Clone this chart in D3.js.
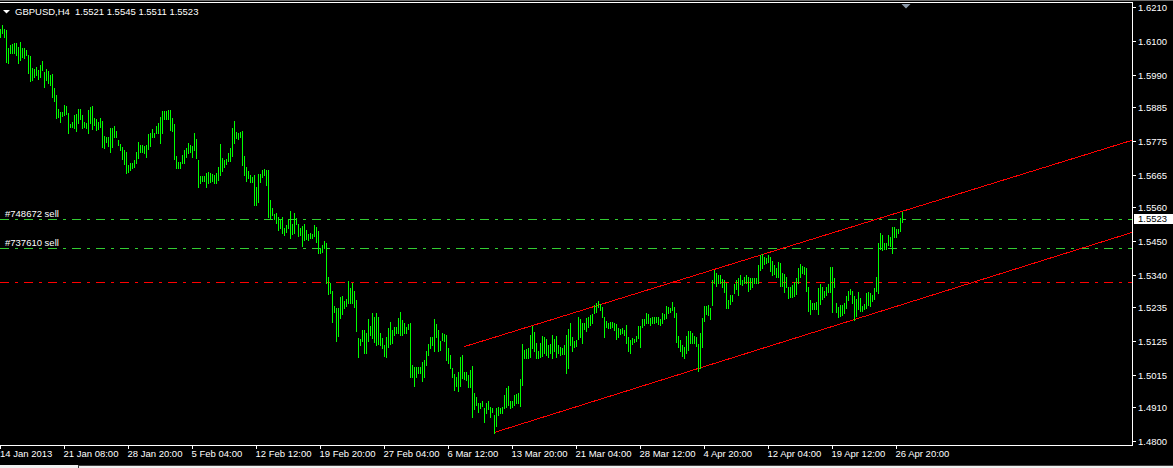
<!DOCTYPE html>
<html>
<head>
<meta charset="utf-8">
<script src="https://cdn.jsdelivr.net/npm/d3@7"></script>
<style>
  html, body { margin: 0; padding: 0; background: #000; }
  svg { display: block; }
  text { font-family: "Liberation Sans", Arial, sans-serif; font-size: 9.5px; fill: #ffffff; white-space: pre; }
</style>
</head>
<body>
<div id="chart"></div>
<script>
// ---------------- DATA ----------------
const symbol = "GBPUSD,H4";
const ohlcLast = ["1.5521", "1.5545", "1.5511", "1.5523"];
const lastPrice = 1.5523;

const priceTickLabels = ["1.6210","1.6100","1.5990","1.5885","1.5775","1.5665","1.5560",
                         "1.5450","1.5340","1.5235","1.5125","1.5015","1.4910","1.4800"];
const timeTickLabels = ["14 Jan 2013","21 Jan 08:00","28 Jan 20:00","5 Feb 04:00","12 Feb 12:00",
                        "19 Feb 20:00","27 Feb 04:00","6 Mar 12:00","13 Mar 20:00","21 Mar 04:00",
                        "28 Mar 12:00","4 Apr 20:00","12 Apr 04:00","19 Apr 12:00","26 Apr 20:00"];
const barsPerTimeTick = 32;

// H4 bar highs
const highs = [
1.6139,1.6152,1.6139,1.6136,1.6077,1.6087,1.6091,1.6093,1.6093,1.6082,
1.6097,1.6079,1.6077,1.6071,1.6055,1.6052,1.6012,1.6008,1.6017,1.6006,
1.6022,1.6035,1.6001,1.6008,1.6003,1.5990,1.5993,1.5947,1.5925,1.5878,
1.5871,1.5871,1.5892,1.5889,1.5867,1.5831,1.5838,1.5860,1.5863,1.5879,
1.5879,1.5860,1.5838,1.5835,1.5876,1.5885,1.5889,1.5851,1.5846,1.5838,
1.5849,1.5841,1.5792,1.5789,1.5789,1.5817,1.5819,1.5824,1.5809,1.5779,
1.5766,1.5757,1.5746,1.5741,1.5697,1.5703,1.5705,1.5714,1.5741,1.5771,
1.5762,1.5762,1.5759,1.5762,1.5798,1.5800,1.5813,1.5802,1.5824,1.5833,
1.5852,1.5874,1.5874,1.5874,1.5876,1.5876,1.5849,1.5831,1.5727,1.5708,
1.5708,1.5730,1.5746,1.5751,1.5768,1.5762,1.5759,1.5800,1.5781,1.5714,
1.5662,1.5662,1.5662,1.5670,1.5676,1.5670,1.5668,1.5665,1.5670,1.5692,
1.5766,1.5719,1.5714,1.5716,1.5737,1.5751,1.5817,1.5840,1.5806,1.5802,
1.5806,1.5808,1.5727,1.5692,1.5679,1.5665,1.5657,1.5665,1.5625,1.5668,
1.5668,1.5681,1.5684,1.5681,1.5681,1.5583,1.5559,1.5537,1.5540,1.5529,
1.5522,1.5529,1.5494,1.5501,1.5521,1.5548,1.5506,1.5542,1.5524,1.5506,
1.5491,1.5499,1.5506,1.5486,1.5473,1.5475,1.5472,1.5502,1.5495,1.5483,
1.5429,1.5437,1.5450,1.5445,1.5334,1.5313,1.5288,1.5239,1.5231,1.5231,
1.5269,1.5271,1.5255,1.5261,1.5320,1.5296,1.5315,1.5288,1.5258,1.5134,
1.5131,1.5161,1.5161,1.5152,1.5196,1.5174,1.5215,1.5202,1.5215,1.5202,
1.5150,1.5134,1.5112,1.5139,1.5166,1.5186,1.5161,1.5170,1.5172,1.5199,
1.5218,1.5193,1.5183,1.5172,1.5180,1.5183,1.5047,1.5042,1.5039,1.5042,
1.5042,1.5056,1.5063,1.5091,1.5115,1.5137,1.5137,1.5196,1.5180,1.5161,
1.5126,1.5150,1.5148,1.5145,1.5101,1.5080,1.5036,1.5018,1.5009,1.5025,
1.5072,1.5080,1.5025,1.5025,1.5015,1.5031,1.5044,1.4955,1.4944,1.4925,
1.4922,1.4930,1.4908,1.4925,1.4929,1.4912,1.4908,1.4885,1.4906,1.4912,
1.4908,1.4910,1.4950,1.4971,1.4979,1.4931,1.4931,1.4950,1.4953,1.4955,
1.5001,1.5115,1.5096,1.5098,1.5101,1.5145,1.5174,1.5153,1.5120,1.5091,
1.5120,1.5141,1.5137,1.5131,1.5112,1.5115,1.5145,1.5131,1.5141,1.5112,
1.5107,1.5101,1.5112,1.5145,1.5163,1.5185,1.5137,1.5126,1.5128,1.5204,
1.5196,1.5183,1.5185,1.5199,1.5204,1.5210,1.5213,1.5242,1.5248,1.5256,
1.5245,1.5237,1.5202,1.5191,1.5185,1.5188,1.5188,1.5183,1.5180,1.5166,
1.5163,1.5166,1.5161,1.5177,1.5139,1.5128,1.5134,1.5131,1.5141,1.5174,
1.5174,1.5196,1.5196,1.5215,1.5213,1.5199,1.5202,1.5202,1.5204,1.5202,
1.5196,1.5215,1.5213,1.5239,1.5235,1.5231,1.5253,1.5237,1.5215,1.5141,
1.5128,1.5112,1.5107,1.5141,1.5156,1.5156,1.5152,1.5141,1.5137,1.5115,
1.5152,1.5199,1.5239,1.5239,1.5242,1.5231,1.5323,1.5356,1.5347,1.5340,
1.5340,1.5326,1.5323,1.5315,1.5258,1.5275,1.5275,1.5310,1.5323,1.5329,
1.5340,1.5323,1.5332,1.5340,1.5332,1.5329,1.5329,1.5331,1.5329,1.5372,
1.5405,1.5408,1.5399,1.5394,1.5405,1.5397,1.5386,1.5372,1.5361,1.5383,
1.5380,1.5345,1.5343,1.5334,1.5302,1.5300,1.5307,1.5318,1.5329,1.5361,
1.5375,1.5369,1.5367,1.5361,1.5300,1.5258,1.5250,1.5248,1.5253,1.5296,
1.5310,1.5300,1.5289,1.5300,1.5310,1.5367,1.5367,1.5329,1.5250,1.5235,
1.5242,1.5242,1.5248,1.5271,1.5289,1.5293,1.5289,1.5271,1.5261,1.5286,
1.5264,1.5239,1.5245,1.5280,1.5286,1.5280,1.5275,1.5296,1.5332,1.5443,
1.5477,1.5470,1.5445,1.5445,1.5470,1.5464,1.5495,1.5495,1.5488,1.5488,
1.5524,1.5545];

// H4 bar lows
const lows = [
1.6112,1.6125,1.6115,1.6033,1.6028,1.6060,1.6062,1.6060,1.6055,1.6030,
1.6039,1.6047,1.6044,1.6055,1.5998,1.5970,1.5974,1.5984,1.5990,1.5976,
1.5982,1.6006,1.5952,1.5974,1.5963,1.5957,1.5919,1.5906,1.5851,1.5854,
1.5838,1.5857,1.5860,1.5863,1.5802,1.5820,1.5822,1.5817,1.5808,1.5833,
1.5846,1.5817,1.5820,1.5817,1.5800,1.5835,1.5813,1.5827,1.5811,1.5813,
1.5822,1.5757,1.5751,1.5773,1.5759,1.5741,1.5757,1.5789,1.5789,1.5762,
1.5746,1.5716,1.5701,1.5670,1.5676,1.5681,1.5689,1.5692,1.5705,1.5719,
1.5741,1.5741,1.5735,1.5722,1.5748,1.5759,1.5787,1.5789,1.5800,1.5800,
1.5770,1.5802,1.5846,1.5846,1.5846,1.5811,1.5808,1.5716,1.5687,1.5687,
1.5687,1.5703,1.5705,1.5722,1.5735,1.5741,1.5724,1.5746,1.5719,1.5627,
1.5638,1.5645,1.5645,1.5627,1.5640,1.5643,1.5645,1.5640,1.5640,1.5649,
1.5665,1.5679,1.5692,1.5701,1.5711,1.5711,1.5727,1.5770,1.5786,1.5782,
1.5787,1.5697,1.5665,1.5646,1.5654,1.5643,1.5641,1.5567,1.5567,1.5578,
1.5643,1.5659,1.5665,1.5632,1.5529,1.5521,1.5535,1.5521,1.5508,1.5486,
1.5491,1.5475,1.5470,1.5481,1.5491,1.5459,1.5472,1.5475,1.5506,1.5468,
1.5470,1.5435,1.5454,1.5456,1.5454,1.5459,1.5459,1.5467,1.5448,1.5412,
1.5412,1.5416,1.5429,1.5313,1.5277,1.5280,1.5188,1.5221,1.5126,1.5142,
1.5199,1.5212,1.5231,1.5239,1.5248,1.5248,1.5248,1.5237,1.5159,1.5072,
1.5112,1.5126,1.5087,1.5085,1.5126,1.5145,1.5134,1.5123,1.5112,1.5114,
1.5112,1.5101,1.5077,1.5074,1.5107,1.5115,1.5118,1.5145,1.5152,1.5150,
1.5145,1.5145,1.5150,1.5150,1.5163,1.5009,1.5009,1.4980,1.5009,1.5020,
1.5020,1.4996,1.5009,1.5047,1.5080,1.5101,1.5112,1.5091,1.5137,1.5091,
1.5096,1.5128,1.5126,1.5063,1.5053,1.5036,1.5009,1.4966,1.4979,1.4964,
1.4979,1.5004,1.5001,1.4998,1.4977,1.4977,1.4879,1.4903,1.4917,1.4895,
1.4906,1.4914,1.4863,1.4890,1.4903,1.4877,1.4895,1.4827,1.4849,1.4885,
1.4890,1.4890,1.4906,1.4912,1.4917,1.4906,1.4910,1.4917,1.4925,1.4925,
1.4914,1.4982,1.5069,1.5071,1.5069,1.5074,1.5101,1.5091,1.5069,1.5069,
1.5074,1.5076,1.5087,1.5080,1.5072,1.5087,1.5069,1.5091,1.5074,1.5087,
1.5080,1.5083,1.5083,1.5022,1.5036,1.5112,1.5091,1.5107,1.5109,1.5131,
1.5139,1.5120,1.5163,1.5159,1.5170,1.5177,1.5183,1.5217,1.5221,1.5235,
1.5226,1.5204,1.5139,1.5172,1.5166,1.5166,1.5172,1.5161,1.5131,1.5137,
1.5148,1.5150,1.5145,1.5118,1.5091,1.5087,1.5115,1.5121,1.5126,1.5134,
1.5107,1.5172,1.5177,1.5183,1.5183,1.5177,1.5185,1.5185,1.5188,1.5180,
1.5177,1.5183,1.5196,1.5199,1.5215,1.5221,1.5226,1.5204,1.5123,1.5105,
1.5094,1.5076,1.5071,1.5087,1.5096,1.5120,1.5118,1.5120,1.5109,1.5029,
1.5036,1.5107,1.5191,1.5213,1.5210,1.5196,1.5242,1.5315,1.5304,1.5313,
1.5313,1.5300,1.5286,1.5234,1.5234,1.5245,1.5256,1.5280,1.5293,1.5275,
1.5310,1.5307,1.5315,1.5313,1.5289,1.5293,1.5302,1.5315,1.5315,1.5315,
1.5356,1.5361,1.5375,1.5378,1.5383,1.5354,1.5340,1.5343,1.5334,1.5334,
1.5304,1.5304,1.5286,1.5302,1.5266,1.5269,1.5269,1.5271,1.5278,1.5313,
1.5332,1.5345,1.5343,1.5289,1.5224,1.5213,1.5228,1.5228,1.5228,1.5213,
1.5245,1.5261,1.5267,1.5275,1.5286,1.5286,1.5220,1.5300,1.5220,1.5202,
1.5206,1.5210,1.5217,1.5234,1.5258,1.5278,1.5250,1.5193,1.5206,1.5228,
1.5224,1.5224,1.5228,1.5234,1.5242,1.5239,1.5256,1.5261,1.5289,1.5280,
1.5423,1.5421,1.5423,1.5423,1.5437,1.5434,1.5412,1.5464,1.5462,1.5475,
1.5484,1.5511];

// Order lines (open prices) and labels
const orderLabels = ["#748672 sell", "#737610 sell"];
const orderPrices = [1.5521, 1.5427];
// other horizontal level (red)
const levelPrices = [1.5317];

// Channel trend lines: anchor bars and prices
const upperChannelBars = [232, 451];
const upperChannelPrices = [1.5107, 1.5547];
const lowerChannelBars = [247, 349];
const lowerChannelPrices = [1.4828, 1.5036];

// ---------------- LAYOUT ----------------
const W = 1173, H = 468;
const plotRight = 1132;
const plotTop = 2;
const plotBottom = 445;
const barsAcross = 566;

const svg = d3.select("#chart").append("svg")
  .attr("width", W).attr("height", H)
  .style("background", "#000");

const x = d3.scaleLinear().domain([0, barsAcross]).range([0, plotRight]);
const y = d3.scaleLinear().domain([1.4800, 1.6210]).range([441, 7.3]);

svg.append("defs").append("clipPath").attr("id", "plotclip")
  .append("rect").attr("x", 0).attr("y", plotTop + 1).attr("width", plotRight).attr("height", plotBottom - plotTop - 1);

const plot = svg.append("g").attr("clip-path", "url(#plotclip)");

// horizontal order lines (dash-dot)
const dash = "9,6,3,6";
plot.selectAll("line.order").data(orderPrices).join("line")
  .attr("class", "order")
  .attr("x1", 0).attr("x2", plotRight)
  .attr("y1", d => Math.round(y(d)) + 0.5).attr("y2", d => Math.round(y(d)) + 0.5)
  .attr("stroke", "#32cd32").attr("stroke-width", 1)
  .attr("stroke-dasharray", dash).attr("shape-rendering", "crispEdges");

plot.selectAll("line.level").data(levelPrices).join("line")
  .attr("class", "level")
  .attr("x1", 0).attr("x2", plotRight)
  .attr("y1", d => Math.round(y(d)) + 0.5).attr("y2", d => Math.round(y(d)) + 0.5)
  .attr("stroke", "#ff0000").attr("stroke-width", 1)
  .attr("stroke-dasharray", dash).attr("shape-rendering", "crispEdges");

plot.selectAll("text.orderlabel").data(orderPrices).join("text")
  .attr("class", "orderlabel")
  .attr("x", 5).attr("y", d => Math.round(y(d)) - 2)
  .text((d, i) => orderLabels[i]);

// channel rays
function ray(bars, prices) {
  const slope = (prices[1] - prices[0]) / (bars[1] - bars[0]);
  const endBar = barsAcross + 2;
  return [[bars[0], prices[0]], [endBar, prices[0] + slope * (endBar - bars[0])]];
}
const line = d3.line().x(d => x(d[0]) + 0.5).y(d => y(d[1]));
[ray(upperChannelBars, upperChannelPrices), ray(lowerChannelBars, lowerChannelPrices)].forEach(pts => {
  plot.append("path").attr("d", line(pts))
    .attr("fill", "none").attr("stroke", "#ff0000").attr("stroke-width", 1)
    .attr("shape-rendering", "crispEdges");
});

// bars (high-low)
plot.selectAll("rect.bar").data(highs).join("rect")
  .attr("class", "bar")
  .attr("x", (d, i) => Math.round(x(i)))
  .attr("width", 1)
  .attr("y", d => Math.round(y(d)))
  .attr("height", (d, i) => Math.max(1, Math.round(y(lows[i])) - Math.round(y(d)) + 1))
  .attr("fill", "#00ff00")
  .attr("shape-rendering", "crispEdges");

// frame
svg.append("line").attr("x1", 0).attr("x2", W).attr("y1", 0.5).attr("y2", 0.5)
  .attr("stroke", "#707070").attr("shape-rendering", "crispEdges");
svg.append("path")
  .attr("d", `M0,${plotTop + 0.5}H${plotRight + 0.5}V${plotBottom + 0.5}H0`)
  .attr("fill", "none").attr("stroke", "#ffffff").attr("stroke-width", 1)
  .attr("shape-rendering", "crispEdges");

// chart shift marker
const mx = x(452) + 2;
svg.append("path").attr("d", `M${mx - 4.5},4L${mx + 4.5},4L${mx},8.5Z`).attr("fill", "#8a98a8");

// price axis
const pa = svg.append("g");
priceTickLabels.forEach(lbl => {
  const v = +lbl;
  const yy = Math.round(y(v)) + 0.5;
  pa.append("line").attr("x1", plotRight).attr("x2", plotRight + 4).attr("y1", yy).attr("y2", yy)
    .attr("stroke", "#ffffff").attr("shape-rendering", "crispEdges");
  pa.append("text").attr("x", plotRight + 6).attr("y", yy).attr("dy", "0.35em").text(lbl);
});

// last price box
const ly = y(lastPrice);
pa.append("rect").attr("x", plotRight + 2).attr("y", Math.round(ly) - 5).attr("width", W - plotRight - 2).attr("height", 10)
  .attr("fill", "#ffffff");
pa.append("text").attr("x", plotRight + 6).attr("y", ly).attr("dy", "0.35em")
  .style("fill", "#000").text(d3.format(".4f")(lastPrice));

// time axis
const ta = svg.append("g");
timeTickLabels.forEach((lbl, k) => {
  const xx = Math.round(x(k * barsPerTimeTick)) + 0.5;
  ta.append("line").attr("x1", xx).attr("x2", xx).attr("y1", plotBottom).attr("y2", plotBottom + 4)
    .attr("stroke", "#ffffff").attr("shape-rendering", "crispEdges");
  ta.append("text").attr("x", k === 0 ? 0 : xx - 1).attr("y", 457).text(lbl);
});

// title
svg.append("path").attr("d", "M3,10L10,10L6.5,13.5Z").attr("fill", "#ffffff");
svg.append("text").attr("x", 15).attr("y", 15).text(symbol);
svg.append("text").attr("x", 75).attr("y", 15).text(ohlcLast.join(" "));

// bottom window strip
svg.append("rect").attr("x", 0).attr("y", 465).attr("width", W).attr("height", 3).attr("fill", "#f0f0f0");
svg.append("path").attr("d", `M78.5,468V465.5H${W}`).attr("fill", "none").attr("stroke", "#404040")
  .attr("shape-rendering", "crispEdges");
</script>
</body>
</html>
